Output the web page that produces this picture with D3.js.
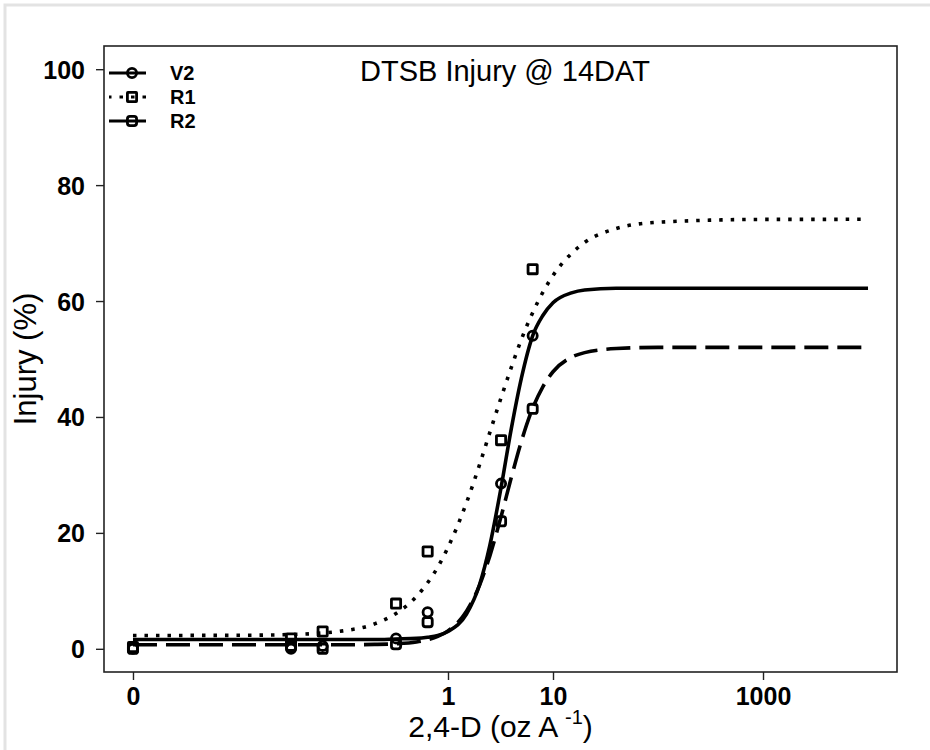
<!DOCTYPE html>
<html>
<head>
<meta charset="utf-8">
<script src="https://cdn.jsdelivr.net/npm/d3@7"></script>
<style>
  html, body { margin: 0; padding: 0; background: #fff; }
  svg { display: block; }
  text { font-family: "Liberation Sans", Arial, sans-serif; fill: #000; }
</style>
</head>
<body>
<script>
// Dose levels (oz/A); dose 0 is drawn at the left break of the log axis
const doses = [0, 0.032, 0.064, 0.32, 0.64, 3.2, 6.4];
const zeroDosePosition = 0.001;

// Observed injury (%) at each dose
const v2Obs = [0, 0, 0.5, 1.8, 6.3, 28.5, 54];
const r1Obs = [0.3, 1.8, 3.0, 7.8, 16.8, 36, 65.5];
const r2Obs = [0, 0.5, 0, 0.8, 4.6, 22, 41.4];

// Fitted dose-response curves, sampled along the dose axis
const curveDoses = [0.001, 0.01, 0.03, 0.1, 0.2, 0.32, 0.5, 0.64, 0.8, 1, 1.5, 2, 2.5, 3.2, 4, 5, 6.4, 8, 10, 15, 20, 40, 100, 1000, 10000];
const v2Curve = [1.6, 1.6, 1.6, 1.6, 1.6, 1.7, 1.8, 2.0, 2.3, 3.0, 6.0, 11.1, 17.8, 27.8, 37.9, 46.7, 54, 57.5, 59.7, 61.4, 61.9, 62.2, 62.2, 62.2, 62.2];
const r1Curve = [2.3, 2.33, 2.45, 3.1, 4.3, 6.1, 9.0, 11.4, 14.1, 17.5, 25.2, 31.8, 37.3, 43.3, 48.5, 53.4, 58, 61.5, 64.4, 68.2, 70.1, 72.5, 73.6, 74.08, 74.1];
const r2Curve = [0.7, 0.7, 0.7, 0.7, 0.76, 0.87, 1.18, 1.56, 2.14, 3.1, 6.5, 11.0, 16.0, 22.8, 29.5, 35.8, 41.5, 45.2, 47.8, 50.3, 51.1, 51.8, 52, 52, 52];

// Axis ticks
const xTickValues = [0, 1, 10, 1000];
const xTickLabels = ["0", "1", "10", "1000"];
const yTickValues = [0, 20, 40, 60, 80, 100];

const seriesNames = ["V2", "R1", "R2"];

const W = 930, H = 750;
const box = { left: 104, right: 897, top: 46, bottom: 672 };

const svg = d3.select("body").append("svg").attr("width", W).attr("height", H);

// light frame around the figure
svg.append("path")
  .attr("d", `M5,${H} L5,5 L${W},5`)
  .attr("fill", "none").attr("stroke", "#e3e3e3").attr("stroke-width", 3);

const x = d3.scaleLog()
  .domain([Math.pow(10, -3.276), Math.pow(10, 4.276)])
  .range([box.left, box.right]);
const y = d3.scaleLinear().domain([-4, 104]).range([box.bottom, box.top]);
const xPos = d => x(d === 0 ? zeroDosePosition : d);

// plot box
svg.append("rect")
  .attr("x", box.left).attr("y", box.top)
  .attr("width", box.right - box.left).attr("height", box.bottom - box.top)
  .attr("fill", "none").attr("stroke", "#222").attr("stroke-width", 1.6);

// y axis
const yAxis = d3.axisLeft(y).tickValues(yTickValues).tickSize(8).tickPadding(11).tickFormat(d3.format("d"));
const gy = svg.append("g").attr("transform", `translate(${box.left},0)`).call(yAxis);
gy.select(".domain").remove();
gy.selectAll(".tick line").attr("stroke", "#222").attr("stroke-width", 1.4);
gy.selectAll(".tick text")
  .style("font-family", '"Liberation Sans", Arial, sans-serif')
  .style("font-size", "25px").style("font-weight", "bold").attr("dy", "0.36em");

// x axis
const xAxis = d3.axisBottom(x)
  .tickValues(xTickValues.map(v => v === 0 ? zeroDosePosition : v))
  .tickSize(8).tickPadding(7)
  .tickFormat((d, i) => xTickLabels[i]);
const gx = svg.append("g").attr("transform", `translate(0,${box.bottom})`).call(xAxis);
gx.select(".domain").remove();
gx.selectAll(".tick line").attr("stroke", "#222").attr("stroke-width", 1.4);
gx.selectAll(".tick text")
  .style("font-family", '"Liberation Sans", Arial, sans-serif')
  .style("font-size", "25px").style("font-weight", "bold");

// axis titles
const xTitle = svg.append("text")
  .attr("x", (box.left + box.right) / 2).attr("y", 737)
  .attr("text-anchor", "middle").style("font-size", "30px");
xTitle.append("tspan").text("2,4-D (oz A ");
xTitle.append("tspan").attr("dy", -13).style("font-size", "20px").text("-1");
xTitle.append("tspan").attr("dy", 13).text(")");

svg.append("text")
  .attr("transform", `translate(36,${(box.top + box.bottom) / 2}) rotate(-90)`)
  .attr("text-anchor", "middle").style("font-size", "31px")
  .text("Injury (%)");

// chart title
svg.append("text")
  .attr("x", 505).attr("y", 81)
  .attr("text-anchor", "middle").style("font-size", "29px")
  .text("DTSB Injury @ 14DAT");

// line styles per series
const styles = [
  { dash: null },
  { dash: "3.5,8" },
  { dash: "24,9" }
];
const curves = [v2Curve, r1Curve, r2Curve];
const obs = [v2Obs, r1Obs, r2Obs];

const line = d3.line()
  .x(d => x(d[0])).y(d => y(d[1]))
  .curve(d3.curveMonotoneX);

curves.forEach((c, i) => {
  svg.append("path")
    .datum(curveDoses.map((d, j) => [d, c[j]]))
    .attr("d", line)
    .attr("fill", "none").attr("stroke", "#000").attr("stroke-width", 3.6)
    .attr("stroke-dasharray", styles[i].dash);
});

// point markers
function marker(g, i, cx, cy) {
  if (i === 0) {
    g.append("circle").attr("cx", cx).attr("cy", cy).attr("r", 4.6)
      .attr("fill", "none").attr("stroke", "#000").attr("stroke-width", 2.8);
  } else {
    g.append("rect").attr("x", cx - 4.6).attr("y", cy - 4.6)
      .attr("width", 9.2).attr("height", 9.2)
      .attr("rx", i === 2 ? 2.5 : 0.5)
      .attr("fill", "none").attr("stroke", "#000").attr("stroke-width", 2.8);
  }
}

const pts = svg.append("g");
obs.forEach((vals, i) => {
  vals.forEach((v, j) => marker(pts, i, xPos(doses[j]), y(v)));
});

// legend
const leg = svg.append("g");
const legendY = [73, 97, 121];
seriesNames.forEach((name, i) => {
  const ly = legendY[i];
  const seg = leg.append("line")
    .attr("x1", 109).attr("x2", 146).attr("y1", ly).attr("y2", ly)
    .attr("stroke", "#000").attr("stroke-width", 3.2);
  if (i === 1) seg.attr("stroke-dasharray", "3.5,8").attr("stroke-dashoffset", 1);
  const g = leg.append("g");
  marker(g, i, 132, ly);
  leg.append("text").attr("x", 170).attr("y", ly + 7)
    .style("font-size", "20px").style("font-weight", "bold").text(name);
});
</script>
</body>
</html>
